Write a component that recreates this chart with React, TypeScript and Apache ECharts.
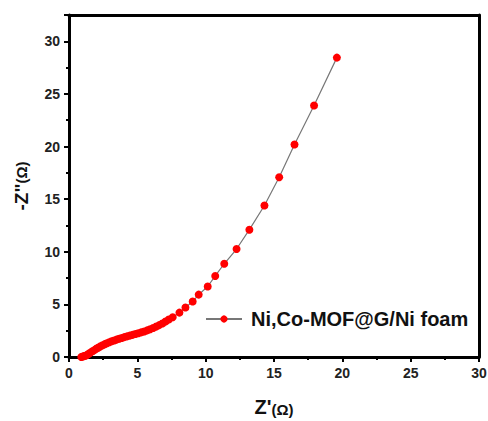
import React, { useEffect, useRef } from "react";
import * as echarts from "echarts";

// Nyquist plot: real impedance Z' (Ω) vs. negative imaginary impedance -Z'' (Ω)
const zReal: number[] = [
  0.9, 1.0, 1.1, 1.2, 1.3, 1.4, 1.5, 1.62, 1.75, 1.88, 2.02, 2.16, 2.31, 2.46,
  2.62, 2.78, 2.95, 3.12, 3.3, 3.48, 3.67, 3.86, 4.05, 4.25, 4.45, 4.65, 4.86,
  5.07, 5.28, 5.5, 5.72, 5.94, 6.16, 6.38, 6.6, 6.83, 7.06, 7.3, 7.59, 8.08,
  8.52, 9.05, 9.49, 10.15, 10.7, 11.36, 12.26, 13.2, 14.3, 15.38, 16.5, 17.93,
  19.6,
];
const zImag: number[] = [
  0.0, 0.04, 0.08, 0.12, 0.18, 0.26, 0.35, 0.46, 0.57, 0.68, 0.8, 0.91, 1.02,
  1.12, 1.22, 1.31, 1.4, 1.49, 1.57, 1.65, 1.73, 1.81, 1.89, 1.96, 2.03, 2.1,
  2.18, 2.26, 2.34, 2.43, 2.53, 2.64, 2.76, 2.89, 3.03, 3.19, 3.37, 3.57, 3.78,
  4.22, 4.7, 5.27, 5.93, 6.7, 7.7, 8.86, 10.26, 12.1, 14.4, 17.08, 20.2, 23.9,
  28.45,
];
const seriesName = "Ni,Co-MOF@G/Ni foam";

const FONT = "Arial, 'Liberation Sans', sans-serif";

const frameAxis = {
  type: "value",
  min: 0,
  axisLine: { onZero: false, lineStyle: { color: "#000", width: 3 } },
  axisTick: { show: false },
  axisLabel: { show: false },
  splitLine: { show: false },
};

export default function App() {
  const ref = useRef<HTMLDivElement>(null);

  useEffect(() => {
    if (!ref.current) return;
    const chart = echarts.init(ref.current, undefined, { renderer: "svg" });
    const points = zReal.map((x, i) => [x, zImag[i]]);

    chart.setOption({
      animation: false,
      backgroundColor: "#fff",
      grid: {
        left: 69,
        right: 9,
        top: 15,
        bottom: 64,
        outerBoundsMode: "none",
        containLabel: false,
      },
      legend: {
        left: 200,
        top: 304,
        itemWidth: 36,
        itemHeight: 9,
        data: [{ name: seriesName }],
        textStyle: {
          fontFamily: FONT,
          fontWeight: "bold",
          fontSize: 20,
          color: "#111",
          padding: [0, 0, 0, 4],
        },
      },
      xAxis: [
        {
          type: "value",
          position: "bottom",
          min: 0,
          max: 30,
          interval: 5,
          name: "{b|Z'}{u|(Ω)}",
          nameLocation: "middle",
          nameGap: 40,
          nameTextStyle: {
            rich: {
              b: { fontFamily: FONT, fontWeight: "bold", fontSize: 20, color: "#111" },
              u: { fontFamily: FONT, fontWeight: "bold", fontSize: 15, color: "#111", padding: [4, 0, 0, 0] },
            },
          },
          splitLine: { show: false },
          axisLine: { onZero: false, lineStyle: { color: "#000", width: 3 } },
          axisTick: { show: true, length: 5, lineStyle: { color: "#000", width: 2 } },
          minorTick: { show: true, splitNumber: 2, length: 3, lineStyle: { color: "#000", width: 2 } },
          axisLabel: {
            margin: 9,
            fontFamily: FONT,
            fontWeight: "bold",
            fontSize: 14,
            color: "#222",
          },
        },
        { ...frameAxis, position: "top", max: 30 },
      ],
      yAxis: [
        {
          type: "value",
          position: "left",
          min: 0,
          max: 32.5,
          interval: 5,
          name: "{b|-Z\"}{u|(Ω)}",
          nameLocation: "middle",
          nameGap: 38,
          nameRotate: 90,
          nameTextStyle: {
            rich: {
              b: { fontFamily: FONT, fontWeight: "bold", fontSize: 19, color: "#111" },
              u: { fontFamily: FONT, fontWeight: "bold", fontSize: 15, color: "#111" },
            },
          },
          splitLine: { show: false },
          axisLine: { onZero: false, lineStyle: { color: "#000", width: 3 } },
          axisTick: { show: true, length: 5, lineStyle: { color: "#000", width: 2 } },
          minorTick: { show: true, splitNumber: 2, length: 3, lineStyle: { color: "#000", width: 2 } },
          axisLabel: {
            margin: 9,
            showMaxLabel: false,
            fontFamily: FONT,
            fontWeight: "bold",
            fontSize: 14,
            color: "#222",
            formatter: (v: number) => (v % 5 === 0 ? String(v) : ""),
          },
        },
        { ...frameAxis, position: "right", max: 32.5 },
      ],
      series: [
        {
          name: seriesName,
          type: "line",
          xAxisIndex: 0,
          yAxisIndex: 0,
          data: points,
          symbol: "circle",
          symbolSize: 8,
          showAllSymbol: true,
          itemStyle: { color: "#ff0000" },
          lineStyle: { color: "#777", width: 1.2 },
          z: 3,
        },
      ],
    });

    return () => chart.dispose();
  }, []);

  return (
    <div
      ref={ref}
      style={{ position: "absolute", left: 0, top: 0, width: 488, height: 421 }}
    />
  );
}
